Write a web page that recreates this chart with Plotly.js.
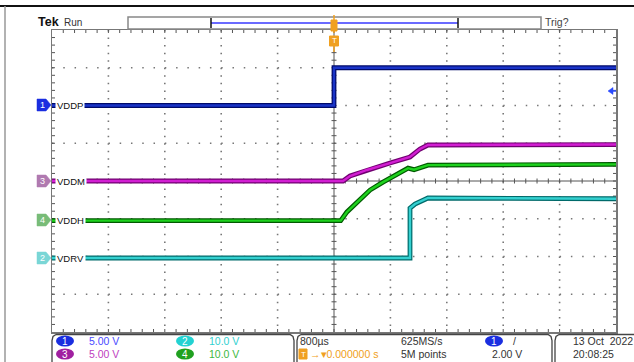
<!DOCTYPE html>
<html>
<head>
<meta charset="utf-8">
<script src="https://cdn.plot.ly/plotly-3.0.1.min.js"></script>
<style>html,body{margin:0;padding:0;background:#fff;}#plot{width:634px;height:362px;}</style>
</head>
<body>
<div id="plot"></div>
<script>
// ---- data (time in microseconds, values in volts) ----
const tVDDP = [-4000, 0, 0, 4000];
const vVDDP = [0, 0, 5.0, 5.0];
const tVDDM = [-4000, 128, 227, 468, 794, 1078, 1220, 1333, 4000];
const vVDDM = [0, 0, 0.66, 1.46, 2.38, 3.18, 4.24, 4.77, 4.83];
const tVDDH = [-4000, 95, 184, 326, 511, 695, 936, 1050, 1135, 1333, 4000];
const vVDDH = [0, 0, 2.3, 4.9, 8.1, 10.2, 12.6, 13.9, 13.5, 14.7, 14.9];
const tVDRV = [-4000, 1078, 1078, 1149, 1333, 4000];
const vVDRV = [0, 0, 13.2, 14.3, 15.9, 15.7];
const chNames = ["VDDP", "VDDM", "VDDH", "VDRV"];
const chNums = ["1", "3", "4", "2"];
const scaleLabels = ["5.00 V", "10.0 V", "5.00 V", "10.0 V"];

// ---- geometry helpers (pixel -> paper) ----
const L = 52, R = 616, T = 30, B = 332;
const DX = (R - L) / 10, DY = (B - T) / 8;
const px = x => (x - L) / (R - L);
const py = y => (B - y) / (B - T);
const FONT = "Liberation Sans, Arial, sans-serif";

function chTraces(t, v, ax, dark, bright) {
  return [
    {x: t, y: v, xaxis: "x", yaxis: ax, mode: "lines", line: {color: dark, width: 4.8}, hoverinfo: "skip"},
    {x: t, y: v, xaxis: "x", yaxis: ax, mode: "lines", line: {color: bright, width: 2.4}, hoverinfo: "skip"}
  ];
}

const traces = [].concat(
  [{x: [], y: [], xaxis: "x", yaxis: "y", mode: "lines", hoverinfo: "skip"}],
  chTraces(tVDDP, vVDDP, "y2", "#000a6a", "#1a34c8"),
  chTraces(tVDDM, vVDDM, "y3", "#700070", "#d21ed2"),
  chTraces(tVDDH, vVDDH, "y4", "#005a00", "#1ed21e"),
  chTraces(tVDRV, vVDRV, "y5", "#006a6a", "#34d0d0")
);

const shapes = [];
const ann = [];
function line(x0, y0, x1, y1, color, w, dash, layer) {
  shapes.push({type: "line", xref: "paper", yref: "paper", layer: layer || "above", x0: px(x0), y0: py(y0), x1: px(x1), y1: py(y1),
    line: {color: color, width: w, dash: dash || "solid"}});
}
function rect(x0, y0, x1, y1, fill, lc, lw) {
  shapes.push({type: "rect", xref: "paper", yref: "paper", x0: px(x0), y0: py(y0), x1: px(x1), y1: py(y1), fillcolor: fill, line: {color: lc, width: lw}});
}
function ell(x0, y0, x1, y1, fill) {
  shapes.push({type: "circle", xref: "paper", yref: "paper", x0: px(x0), y0: py(y0), x1: px(x1), y1: py(y1), fillcolor: fill, line: {width: 0}});
}
function path(pts, fill, lc, lw, closed) {
  let d = "M" + pts.map(p => px(p[0]) + "," + py(p[1])).join(" L") + (closed ? " Z" : "");
  shapes.push({type: "path", xref: "paper", yref: "paper", path: d, fillcolor: fill, line: {color: lc, width: lw}});
}
function text(s, x, y, color, size, opts) {
  ann.push(Object.assign({text: s, xref: "paper", yref: "paper", x: px(x), y: py(y), xanchor: "left", yanchor: "middle",
    showarrow: false, font: {family: FONT, size: size, color: color}}, opts || {}));
}

// graticule: dotted division lines (decoration, below traces)
for (let k = 1; k < 10; k++) {
  if (k === 5) continue;
  line(L + k * DX, T, L + k * DX, B, "#777", 1.6, "1.5px," + (DY / 5 - 1.5).toFixed(2) + "px", "below");
}
for (let k = 1; k < 8; k++) {
  if (k === 4) continue;
  line(L, T + k * DY, R, T + k * DY, "#777", 1.6, "1.5px," + (DX / 5 - 1.5).toFixed(2) + "px", "below");
}
// center crosshair + minor ticks, border ticks
line(L, T + 4 * DY, R, T + 4 * DY, "#555", 1, "solid", "below");
line(L + 5 * DX, T, L + 5 * DX, B, "#555", 1, "solid", "below");
for (let k = 1; k < 50; k++) {
  const xx = L + k * DX / 5;
  line(xx, 181 - 2.5, xx, 181 + 2.5, "#555", 1, "solid", "below");
  line(xx, T, xx, T + 3, "#555", 1, "solid", "below");
  line(xx, B - 3, xx, B, "#555", 1, "solid", "below");
}
for (let k = 1; k < 40; k++) {
  const yy = T + k * DY / 5;
  line(334 - 2.5, yy, 334 + 2.5, yy, "#555", 1, "solid", "below");
  line(L, yy, L + 3, yy, "#555", 1, "solid", "below");
  line(R - 3, yy, R, yy, "#555", 1, "solid", "below");
}

// frame
line(0, 6, 634, 6, "#111", 2);
line(5, 6, 5, 362, "#999", 1.5);
// header
text("<b>Tek</b>", 36, 22, "#111", 12.5);
text("Run", 62, 22, "#333", 10);
text("Trig?", 543, 22, "#444", 10.5);
rect(128, 17, 541, 29, "#fff", "#888", 1.5);
line(211, 23, 458, 23, "#6a6aff", 2);
line(211, 18, 211, 28, "#111", 1.5);
line(458, 18, 458, 28, "#111", 1.5);
line(334, 15, 334, 33, "#f0a020", 1.5);
rect(331, 20, 337, 31, "#f0a020", "#f0a020", 1);
rect(329.5, 36, 338.5, 46, "#f0a020", "#f0a020", 1);
text("T", 334, 41, "#fff", 8, {xanchor: "center"});
line(334, 46, 334, 52, "#f0a020", 1.5);

// channel ground markers + labels
const mk = [
  {y: 105, fill: "#1a2ee0"},
  {y: 181, fill: "#b07ab0"},
  {y: 220, fill: "#78bc78"},
  {y: 258, fill: "#7ad6d6"}
];
mk.forEach((m, i) => {
  path([[37, m.y - 6], [46, m.y - 6], [51, m.y], [46, m.y + 6], [37, m.y + 6]], m.fill, m.fill, 0.5, true);
  text(chNums[i], 42, m.y, "#fff", 9, {xanchor: "center"});
  text(chNames[i], 55, m.y, "#111", 9.5, {bgcolor: "#fff", borderpad: 1});
});
// trigger level arrow (right)
path([[608, 91], [613, 87.5], [613, 94.5]], "#2a4aff", "#2a4aff", 0.5, true);
line(613, 91, 616, 91, "#2a4aff", 1.5);

// bottom boxes
function rbox(x0, x1) {
  const y0 = 334.5, y1 = 364;
  path([[x0 + 4, y0], [x1 - 4, y0], [x1 - 1, y0 + 2], [x1, y0 + 6], [x1, y1]], "rgba(0,0,0,0)", "#444", 1.3, false);
  path([[x0 + 4, y0], [x0 + 1, y0 + 2], [x0, y0 + 6], [x0, y1]], "rgba(0,0,0,0)", "#444", 1.3, false);
}
rbox(52, 294);
rbox(297, 552);
rbox(555, 640);

const badgeCols = ["#1a2ee0", "#22d2d2", "#a020a0", "#20a020"];
const badgeNums = ["1", "2", "3", "4"];
const txtCols = ["#4a4aff", "#30d0d0", "#c040c0", "#40b840"];
const bx = [56, 176, 56, 176], by = [341, 341, 354, 354];
for (let i = 0; i < 4; i++) {
  ell(bx[i], by[i] - 5.5, bx[i] + 18, by[i] + 5.5, badgeCols[i]);
  text(badgeNums[i], bx[i] + 9, by[i], "#fff", 10, {xanchor: "center"});
  text(scaleLabels[i], bx[i] + 31, by[i], txtCols[i], 10.5);
}
text("800µs", 298, 341, "#333", 10.5);
text("625MS/s", 399, 341, "#333", 10.5);
ell(485, 335.5, 503, 346.5, "#1a2ee0");
text("1", 494, 341, "#fff", 10, {xanchor: "center"});
text("/", 511, 341, "#333", 10.5);
rect(299, 349, 307, 359, "#f0a020", "#f0a020", 1);
text("T", 303, 354, "#fff", 8, {xanchor: "center"});
text("→▾0.000000 s", 308, 354, "#f0a020", 10.5);
text("5M points", 399, 354, "#333", 10.5);
text("2.00 V", 490, 354, "#333", 10.5);
text("13 Oct  2022", 571, 341, "#333", 10.5);
text("20:08:25", 571, 354, "#333", 10.5);

const layout = {
  width: 634, height: 362,
  margin: {l: L, r: 634 - R, t: T, b: 362 - B, pad: 0},
  paper_bgcolor: "#fff", plot_bgcolor: "rgba(0,0,0,0)",
  showlegend: false,
  xaxis: {range: [-4000, 4000], showgrid: false, zeroline: false, showline: true, linecolor: "#777", linewidth: 1.5,
    mirror: true, ticks: "", showticklabels: false, fixedrange: true},
  yaxis: {range: [-4, 4], showgrid: false, zeroline: false, showline: true, linecolor: "#777", linewidth: 1.5,
    mirror: true, ticks: "", showticklabels: false, fixedrange: true},
  // channel axes: volts/div and ground offset
  yaxis2: {overlaying: "y", anchor: "x", range: [-30, 10], visible: false, fixedrange: true},
  yaxis3: {overlaying: "y", anchor: "x", range: [-20, 20], visible: false, fixedrange: true},
  yaxis4: {overlaying: "y", anchor: "x", range: [-29.5, 50.5], visible: false, fixedrange: true},
  yaxis5: {overlaying: "y", anchor: "x", range: [-19.6, 60.4], visible: false, fixedrange: true},
  shapes: shapes,
  annotations: ann
};
Plotly.newPlot("plot", traces, layout, {staticPlot: true, displayModeBar: false});
</script>
</body>
</html>
